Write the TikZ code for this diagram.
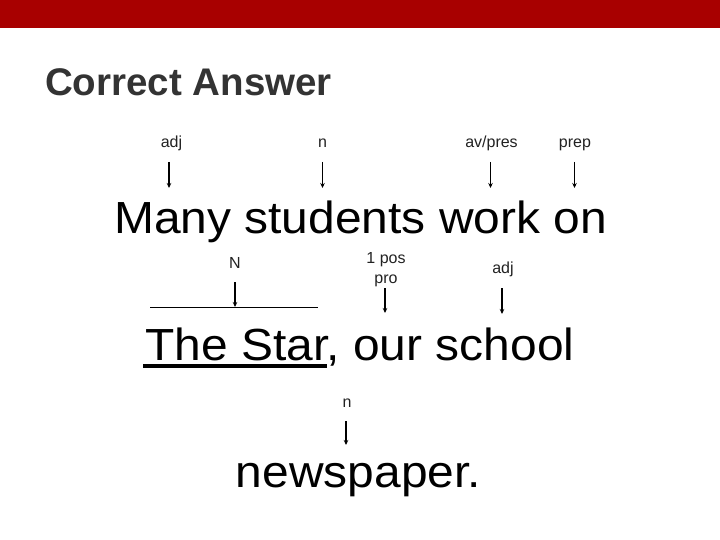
\documentclass[tikz,border=0pt]{standalone}
\usepackage{fontspec}
\setmainfont{Liberation Sans}
\usetikzlibrary{arrows.meta}
\definecolor{barred}{HTML}{A80000}
\definecolor{titlegray}{HTML}{333333}
\definecolor{labgray}{HTML}{222222}
\tikzset{
  big/.style={inner sep=0pt, anchor=base, text=black, xscale=1.065, transform shape, font=\fontsize{45}{54}\selectfont},
  lab/.style={inner sep=0pt, anchor=base, text=labgray, font=\fontsize{16}{20}\selectfont},
  arr/.style={-{Stealth[length=5pt,width=4.5pt]}, line width=1.2pt, black},
}
\begin{document}
\begin{tikzpicture}[x=1pt,y=-1pt]
\useasboundingbox (0,0) rectangle (720,540);
\fill[white] (0,0) rectangle (720,540);
\fill[barred] (0,0) rectangle (720,28);
\node[inner sep=0pt, anchor=base west, text=titlegray, font=\fontsize{38.5}{44}\selectfont\bfseries] (title) at (45,95.5) {Correct Answer};

% top labels
\node[lab] (l1) at (171.5,148) {adj};
\node[lab] (l2) at (322.5,148) {n};
\node[lab] (l3) at (491.5,148) {av/pres};
\node[lab] (l4) at (575,148) {prep};
\coordinate (a1s) at (169,162); \coordinate (a1e) at (169,188);
\coordinate (a2s) at (322.5,162); \coordinate (a2e) at (322.5,188);
\coordinate (a3s) at (490.5,162); \coordinate (a3e) at (490.5,188);
\coordinate (a4s) at (574.5,162); \coordinate (a4e) at (574.5,188);
\draw[arr] (a1s) -- (a1e);
\draw[arr] (a2s) -- (a2e);
\draw[arr] (a3s) -- (a3e);
\draw[arr] (a4s) -- (a4e);

\node[big] (s1) at (360.5,233.5) {Many students work on};

% middle labels
\node[lab] (l5) at (235,268) {N};
\node[lab] (l6a) at (386,263) {1 pos};
\node[lab] (l6b) at (386,283) {pro};
\node[lab] (l7) at (503,273) {adj};
\coordinate (hl1) at (150,307); \coordinate (hl2) at (318,307);
\draw[line width=0.9pt] (hl1) -- (hl2);
\coordinate (a5s) at (235,282); \coordinate (a5e) at (235,307);
\coordinate (a6s) at (385,288); \coordinate (a6e) at (385,313);
\coordinate (a7s) at (502,288); \coordinate (a7e) at (502,314);
\draw[arr] (a5s) -- (a5e);
\draw[arr] (a6s) -- (a6e);
\draw[arr] (a7s) -- (a7e);

\node[big] (s2) at (360,360) {The Star, our school};
\coordinate (u1) at (143,366.3); \coordinate (u2) at (327,366.3);
\draw[line width=4pt] (u1) -- (u2);

% bottom
\node[lab] (l8) at (347,407) {n};
\coordinate (a8s) at (346,421); \coordinate (a8e) at (346,445);
\draw[arr] (a8s) -- (a8e);

\node[big] (s3) at (358.5,487) {newspaper.};
\end{tikzpicture}
\end{document}
